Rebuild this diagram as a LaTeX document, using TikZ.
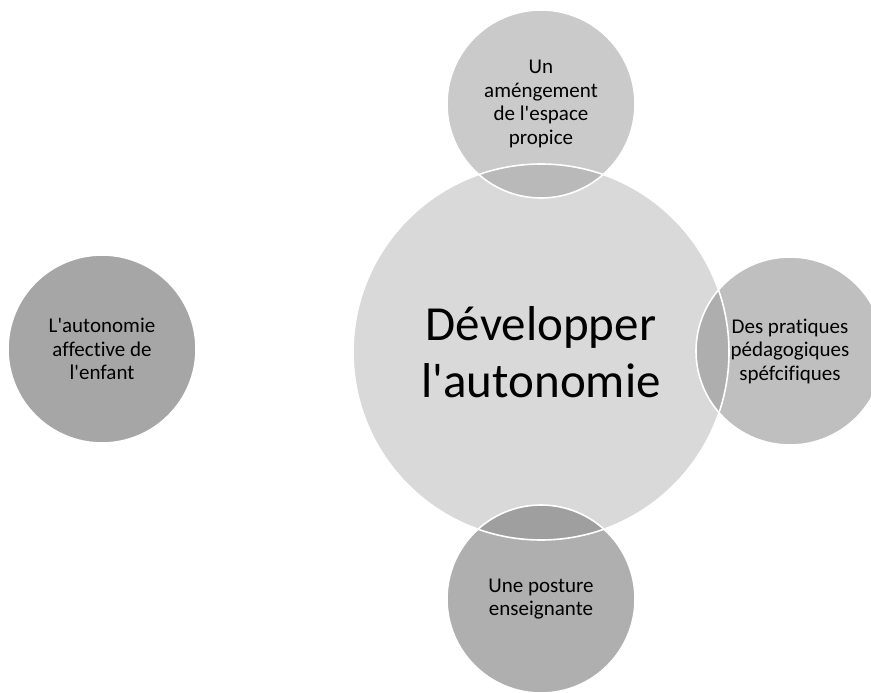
\documentclass[tikz,border=0pt]{standalone}
\usepackage{fontspec}
\setmainfont{Carlito}[Ligatures={TeXOff,NoCommon}]
\definecolor{cmain}{HTML}{D9D9D9}
\definecolor{ctop}{HTML}{CACACA}
\definecolor{ctopov}{HTML}{B9B9B9}
\definecolor{cright}{HTML}{BFBFBF}
\definecolor{crightov}{HTML}{AEAEAE}
\definecolor{cbot}{HTML}{AFAFAF}
\definecolor{cbotov}{HTML}{9F9F9F}
\definecolor{cleft}{HTML}{A6A6A6}
\tikzset{
  sat/.style={circle, minimum size=188pt, inner sep=0pt, draw=white, line width=1.6pt,
    align=center, font=\fontsize{21}{23.5}\selectfont, text=black},
  hub/.style={circle, minimum size=376pt, inner sep=0pt, draw=white, line width=1.6pt,
    align=center, font=\fontsize{49}{57}\selectfont, text=black}
}
\begin{document}
\begin{tikzpicture}[x=1pt,y=-1pt]
\useasboundingbox (0,0) rectangle (871,693);
\begin{scope}
\clip (0,0) rectangle (871,693);
% fills
\fill[cmain] (541,352) circle (188pt);
\fill[ctop] (541,104) circle (94pt);
\fill[cright] (790,351) circle (94pt);
\fill[cbot] (541,599) circle (94pt);
\fill[cleft] (102,349) circle (94pt);
% overlaps
\begin{scope}
\clip (541,352) circle (188pt);
\fill[ctopov] (541,104) circle (94pt);
\fill[crightov] (790,351) circle (94pt);
\fill[cbotov] (541,599) circle (94pt);
\end{scope}
% nodes with outlines and text
\node[hub] (c) at (541,352) {Développer\\l\textquotesingle autonomie};
\node[sat] (t) at (541,104) {Un\\améngement\\de l\textquotesingle espace\\propice};
\node[sat] (r) at (790,351) {Des pratiques\\pédagogiques\\spéfcifiques};
\node[sat] (b) at (541,599) {Une posture\\enseignante};
\node[sat] (l) at (102,349) {L\textquotesingle autonomie\\affective de\\l\textquotesingle enfant};
\end{scope}
\end{tikzpicture}
\end{document}
